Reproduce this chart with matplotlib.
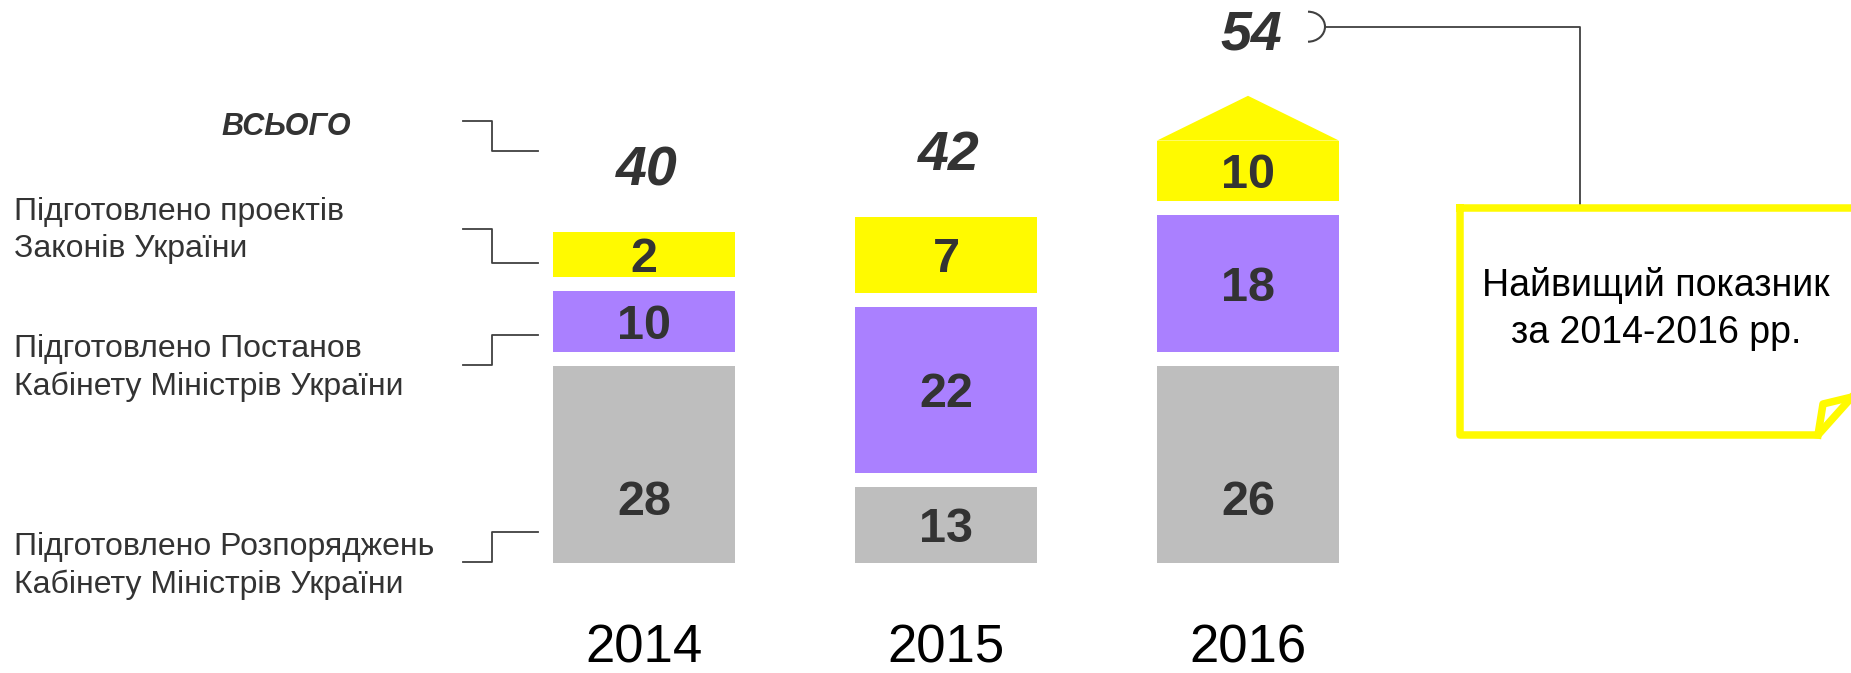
import matplotlib
matplotlib.use("Agg")
import matplotlib.pyplot as plt
import numpy as np
from matplotlib.patches import Arc

plt.rcParams['font.family'] = ['Liberation Sans', 'DejaVu Sans']

# Дані
years = ['2014', '2015', '2016']
totals = [40, 42, 54]
rozp = [28, 13, 26]        # Розпорядження КМУ
postanov = [10, 22, 18]    # Постанови КМУ
zakoniv = [2, 7, 10]       # проекти Законів

# висоти сегментів як на інфографіці (вони не пропорційні значенням)
rozp_h = [28.1, 10.8, 28.1]
postanov_h = [8.7, 23.8, 19.6]
zakoniv_h = [6.5, 10.8, 8.6]

series_names = ['Підготовлено проектів\nЗаконів України',
                'Підготовлено Постанов\nКабінету Міністрів України',
                'Підготовлено Розпоряджень\nКабінету Міністрів України']
total_name = 'ВСЬОГО'
note = 'Найвищий показник\nза 2014-2016 рр.'

GRAY = '#bebebe'
PURPLE = '#aa80ff'
YELLOW = '#fffa00'
DARK = '#333333'
LINE = '#404040'

W, H = 1851, 673
fig = plt.figure(figsize=(W / 100, H / 100), dpi=100)

# шар для підписів і ліній (координати в пікселях, 0 зверху)
ov = fig.add_axes([0, 0, 1, 1])
ov.set_xlim(0, W)
ov.set_ylim(H, 0)
ov.axis('off')

# осі для стовпців
base_px = 562.7
unit = 7.0
ax = fig.add_axes([493 / W, (H - base_px) / H, 906 / W, base_px / H])
ax.set_xlim(-0.5, 2.5)
ax.set_ylim(0, base_px / unit)
ax.set_facecolor('none')
for s in ax.spines.values():
    s.set_visible(False)
ax.set_yticks([])

x = np.arange(len(years))
w = 0.603
gap = 2.0

b1 = ax.bar(x, rozp_h, w, color=GRAY, lw=0)
bot2 = np.array(rozp_h) + gap
b2 = ax.bar(x, postanov_h, w, bottom=bot2, color=PURPLE, lw=0)
bot3 = bot2 + np.array(postanov_h) + gap
b3 = ax.bar(x, zakoniv_h, w, bottom=bot3, color=YELLOW, lw=0)
tops = bot3 + np.array(zakoniv_h)

# "дах" над найбільшим значенням
k = int(np.argmax(totals))
roof = 6.4
ax.fill([x[k] - w / 2, x[k], x[k] + w / 2], [tops[k], tops[k] + roof, tops[k]],
        color=YELLOW, lw=0)
tops_all = tops.copy()
tops_all[k] += roof

lab = dict(fontsize=35, fontweight='bold', color=DARK, ha='center', va='center_baseline')
for i in x:
    ax.text(i, min(rozp_h[i] / 2, 9.3), str(rozp[i]), **lab)
    ax.text(i, bot2[i] + postanov_h[i] / 2, str(postanov[i]), **lab)
    ax.text(i, bot3[i] + zakoniv_h[i] / 2, str(zakoniv[i]), **lab)
    ax.text(i + 0.01, tops_all[i] + 9.5, str(totals[i]), fontsize=40, fontweight='bold',
            fontstyle='italic', color=DARK, ha='center', va='center_baseline')

ax.set_xticks(x, years, fontsize=38, color='black')
ax.tick_params(axis='x', length=0, pad=44)

# підписи зліва
ov.text(286, 135, total_name, fontsize=22, fontweight='bold', fontstyle='italic',
        color=DARK, ha='center', va='baseline')
for name, yb in zip(series_names, [256.7, 395, 592.7]):
    ov.text(14, yb, name, fontsize=23, color=DARK, ha='left', va='baseline',
            linespacing=1.31)

brackets = [[(463, 120.7), (492, 120.7), (492, 151), (537.5, 151)],
            [(463, 229), (492, 229), (492, 262.7), (537.5, 262.7)],
            [(463, 365), (492, 365), (492, 335), (537.5, 335)],
            [(463, 562.3), (492, 562.3), (492, 531.7), (537.5, 531.7)]]
for br in brackets:
    bx, by = zip(*br)
    ov.plot(bx, by, color=LINE, lw=1.3)

# виноска
ov.add_patch(Arc((1308, 26.7), 34, 30, theta1=-90, theta2=90, color=LINE, lw=1.5))
ov.plot([1325, 1580, 1580], [26.7, 26.7, 205], color=LINE, lw=1.3)

box_x = [1460, 1852, 1852, 1818, 1460, 1460]
box_y = [208, 208, 397, 435, 435, 208]
ov.plot(box_x, box_y, color=YELLOW, lw=5.4, solid_joinstyle='round')
ov.plot([1852, 1823, 1818], [397, 404, 435], color=YELLOW, lw=5.4, solid_joinstyle='round')
ov.text(1656, 343.3, note, fontsize=27, color='black', ha='center', va='baseline',
        multialignment='center', linespacing=1.386)

fig.savefig('out.png', dpi=100)
